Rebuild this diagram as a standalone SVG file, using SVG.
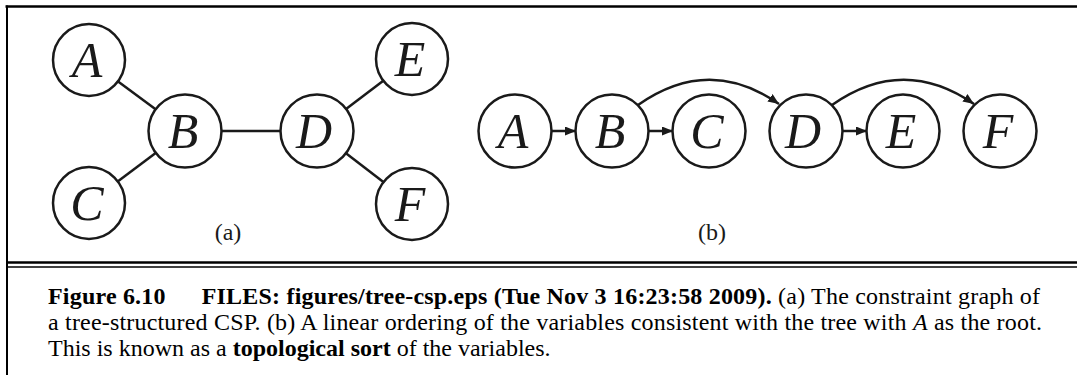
<svg xmlns="http://www.w3.org/2000/svg" width="1077" height="375" viewBox="0 0 1077 375">
<style>
.node{fill:#fff;stroke:#1a1a1a;stroke-width:2.5}
.lbl{font-family:"Liberation Serif","Times New Roman",serif;font-style:italic;font-size:50px;fill:#1a1a1a;text-anchor:middle}
.edge{stroke:#1a1a1a;stroke-width:2.5;fill:none}
.frame{stroke:#000;fill:none}
.cap{font-family:"Liberation Serif","Times New Roman",serif;font-size:24px;fill:#000}
.sub{font-family:"Liberation Serif","Times New Roman",serif;font-size:24px;fill:#1a1a1a;text-anchor:middle}
</style>
<defs>
<marker id="ah" markerUnits="userSpaceOnUse" markerWidth="14" markerHeight="10" refX="11" refY="4.5" orient="auto">
<path d="M0,0 L11,4.5 L0,9 Z" fill="#1a1a1a"/>
</marker>
</defs>
<rect width="1077" height="375" fill="#fff"/>
<g id="frame">
<line class="frame" x1="5.5" y1="6.5" x2="1077" y2="6.5" stroke-width="2.5"/>
<line class="frame" x1="7" y1="5.5" x2="7" y2="375" stroke-width="2"/>
<line class="frame" x1="6" y1="262.5" x2="1077" y2="262.5" stroke-width="2.5"/>
<line class="frame" x1="6" y1="267" x2="1077" y2="267" stroke-width="1.5"/>
</g>
<g id="connectors">
<line class="edge" x1="89" y1="60" x2="185" y2="131"/>
<line class="edge" x1="89" y1="203" x2="185" y2="131"/>
<line class="edge" x1="185" y1="131" x2="317" y2="131"/>
<line class="edge" x1="317" y1="131" x2="412" y2="59"/>
<line class="edge" x1="317" y1="131" x2="412" y2="204"/>
<line class="edge" x1="552" y1="131" x2="576" y2="131" marker-end="url(#ah)"/>
<line class="edge" x1="649" y1="131" x2="673" y2="131" marker-end="url(#ah)"/>
<line class="edge" x1="843" y1="131" x2="867" y2="131" marker-end="url(#ah)"/>
<path class="edge" d="M638,105 Q709,55 779,104" marker-end="url(#ah)"/>
<path class="edge" d="M832,105 Q903,55 974,104" marker-end="url(#ah)"/>
</g>
<g id="a-A"><circle class="node" cx="89" cy="60" r="36"/><text class="lbl" x="87" y="77">A</text></g>
<g id="a-B"><circle class="node" cx="185" cy="131" r="36.5"/><text class="lbl" x="183" y="148">B</text></g>
<g id="a-C"><circle class="node" cx="89" cy="203" r="36"/><text class="lbl" x="87" y="220">C</text></g>
<g id="a-D"><circle class="node" cx="317" cy="131" r="36.5"/><text class="lbl" x="314" y="148">D</text></g>
<g id="a-E"><circle class="node" cx="412" cy="59" r="36"/><text class="lbl" x="410" y="76">E</text></g>
<g id="a-F"><circle class="node" cx="412" cy="204" r="36"/><text class="lbl" x="410" y="221">F</text></g>
<g id="b-A"><circle class="node" cx="515" cy="131" r="36.5"/><text class="lbl" x="513" y="148">A</text></g>
<g id="b-B"><circle class="node" cx="612" cy="131" r="36.5"/><text class="lbl" x="610" y="148">B</text></g>
<g id="b-C"><circle class="node" cx="709" cy="131" r="36.5"/><text class="lbl" x="707" y="148">C</text></g>
<g id="b-D"><circle class="node" cx="806" cy="131" r="36.5"/><text class="lbl" x="803" y="148">D</text></g>
<g id="b-E"><circle class="node" cx="903" cy="131" r="36.5"/><text class="lbl" x="901" y="148">E</text></g>
<g id="b-F"><circle class="node" cx="1000" cy="131" r="36.5"/><text class="lbl" x="998" y="148">F</text></g>
<text class="sub" x="228" y="240">(a)</text>
<text class="sub" x="712" y="240">(b)</text>
<g id="caption">
<text class="cap" x="48" y="304" textLength="992" lengthAdjust="spacing"><tspan font-weight="bold">Figure 6.10</tspan><tspan font-weight="bold" dx="36">FILES: figures/tree-csp.eps (Tue Nov 3 16:23:58 2009).</tspan> (a) The constraint graph of</text>
<text class="cap" x="48" y="330" textLength="994" lengthAdjust="spacing">a tree-structured CSP. (b) A linear ordering of the variables consistent with the tree with <tspan font-style="italic">A</tspan> as the root.</text>
<text class="cap" x="48" y="356">This is known as a <tspan font-weight="bold">topological sort</tspan> of the variables.</text>
</g>
</svg>
